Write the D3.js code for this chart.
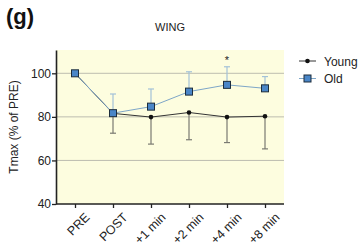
<!DOCTYPE html>
<html lang="en">
<head>
  <meta charset="UTF-8">
  <title>WING</title>
  <script src="https://d3js.org/d3.v7.min.js"></script>
  <style>
    body { margin: 0; background: #fff; }
    text { font-family: "Liberation Sans", Arial, sans-serif; }
  </style>
</head>
<body>
<div id="chart"></div>
<script>
  // data
  const times = ["PRE", "POST", "+1 min", "+2 min", "+4 min", "+8 min"]
  const youngMean = [100, 81.6, 79.9, 82.0, 79.9, 80.3]
  const youngLow = [100, 72.5, 67.5, 69.5, 68.2, 65.3]
  const oldMean = [100, 81.7, 84.7, 91.6, 94.7, 93.1]
  const oldHigh = [100, 90.5, 92.8, 100.7, 103, 98.5]
  const yTicks = [40, 60, 80, 100]
  const gridLines = [60, 80, 100]
  const sigMarks = ["+4 min"]

  const width = 362, height = 242
  const margin = {top: 50, right: 78, bottom: 38, left: 56}

  const svg = d3.select("#chart").append("svg")
    .attr("width", width)
    .attr("height", height)

  const x = d3.scalePoint()
    .domain(times)
    .range([margin.left, width - margin.right])
    .padding(0.5)

  const y = d3.scaleLinear()
    .domain([40, 110.7])
    .range([height - margin.bottom, margin.top])

  // plot background
  svg.append("rect")
    .attr("x", margin.left)
    .attr("y", margin.top)
    .attr("width", width - margin.right - margin.left)
    .attr("height", height - margin.bottom - margin.top)
    .attr("fill", "#fdfddf")

  svg.selectAll(".grid")
    .data(gridLines)
    .join("line")
    .attr("class", "grid")
    .attr("x1", margin.left)
    .attr("x2", width - margin.right)
    .attr("y1", d => y(d))
    .attr("y2", d => y(d))
    .attr("stroke", "#bdbdb0")
    .attr("stroke-width", 1)

  // axes
  const yAxis = svg.append("g")
    .attr("transform", `translate(${margin.left},0)`)
    .call(d3.axisLeft(y).tickValues(yTicks).tickSize(4).tickSizeOuter(0))
  yAxis.select(".domain").attr("stroke", "#222").attr("stroke-width", 1.6)
  yAxis.selectAll(".tick line").attr("stroke", "#222").attr("stroke-width", 1.3)
  yAxis.selectAll(".tick text").attr("font-size", 12).attr("fill", "#222").attr("x", -5)

  const xAxis = svg.append("g")
    .attr("transform", `translate(0,${height - margin.bottom})`)
    .call(d3.axisBottom(x).tickSize(4).tickSizeOuter(0))
  xAxis.select(".domain").attr("stroke", "#222").attr("stroke-width", 1.6)
    .attr("d", `M${margin.left},0H${width - margin.right}`)
  xAxis.selectAll(".tick line").attr("stroke", "#222").attr("stroke-width", 1.3)
  xAxis.selectAll(".tick text")
    .attr("font-size", 12.5)
    .attr("fill", "#222")
    .attr("text-anchor", "end")
    .attr("transform", "translate(6,5) rotate(-45)")
    .attr("dy", "0.7em")
    .attr("y", 4)

  // error bars: young down, old up
  const yg = svg.append("g")
  yg.selectAll("line.ev")
    .data(times.filter((t, i) => youngLow[i] < youngMean[i]))
    .join("line")
    .attr("x1", d => x(d)).attr("x2", d => x(d))
    .attr("y1", d => y(youngMean[times.indexOf(d)]))
    .attr("y2", d => y(youngLow[times.indexOf(d)]))
    .attr("stroke", "#7a7a72").attr("stroke-width", 1.2)
  yg.selectAll("line.ec")
    .data(times.filter((t, i) => youngLow[i] < youngMean[i]))
    .join("line")
    .attr("class", "ec")
    .attr("x1", d => x(d) - 3).attr("x2", d => x(d) + 3)
    .attr("y1", d => y(youngLow[times.indexOf(d)]))
    .attr("y2", d => y(youngLow[times.indexOf(d)]))
    .attr("stroke", "#7a7a72").attr("stroke-width", 1.2)

  const og = svg.append("g")
  og.selectAll("line.ev")
    .data(times.filter((t, i) => oldHigh[i] > oldMean[i]))
    .join("line")
    .attr("x1", d => x(d)).attr("x2", d => x(d))
    .attr("y1", d => y(oldMean[times.indexOf(d)]))
    .attr("y2", d => y(oldHigh[times.indexOf(d)]))
    .attr("stroke", "#a3c2d8").attr("stroke-width", 1.2)
  og.selectAll("line.ec")
    .data(times.filter((t, i) => oldHigh[i] > oldMean[i]))
    .join("line")
    .attr("class", "ec")
    .attr("x1", d => x(d) - 3).attr("x2", d => x(d) + 3)
    .attr("y1", d => y(oldHigh[times.indexOf(d)]))
    .attr("y2", d => y(oldHigh[times.indexOf(d)]))
    .attr("stroke", "#a3c2d8").attr("stroke-width", 1.2)

  // lines
  const line = d3.line().x((d, i) => x(times[i])).y(d => y(d))
  svg.append("path")
    .datum(youngMean)
    .attr("d", line)
    .attr("fill", "none")
    .attr("stroke", "#333")
    .attr("stroke-width", 1)
  svg.append("path")
    .datum(oldMean)
    .attr("d", line)
    .attr("fill", "none")
    .attr("stroke", "#7ea6c8")
    .attr("stroke-width", 1)

  // markers
  svg.selectAll("circle.young")
    .data(youngMean)
    .join("circle")
    .attr("class", "young")
    .attr("cx", (d, i) => x(times[i]))
    .attr("cy", d => y(d))
    .attr("r", 2.3)
    .attr("fill", "#111")
  svg.selectAll("rect.old")
    .data(oldMean)
    .join("rect")
    .attr("class", "old")
    .attr("x", (d, i) => x(times[i]) - 3.5)
    .attr("y", d => y(d) - 3.5)
    .attr("width", 7)
    .attr("height", 7)
    .attr("fill", "#4a86c8")
    .attr("stroke", "#1d2d3d")
    .attr("stroke-width", 1)

  // significance
  svg.selectAll("text.sig")
    .data(sigMarks)
    .join("text")
    .attr("class", "sig")
    .attr("x", d => x(d))
    .attr("y", d => y(oldHigh[times.indexOf(d)]) - 3)
    .attr("text-anchor", "middle")
    .attr("font-size", 11)
    .attr("fill", "#222")
    .text("*")

  // titles
  svg.append("text")
    .attr("x", 170).attr("y", 31)
    .attr("text-anchor", "middle")
    .attr("font-size", 11)
    .attr("fill", "#222")
    .text("WING")
  svg.append("text")
    .attr("x", 6).attr("y", 24)
    .attr("font-size", 22)
    .attr("font-weight", "bold")
    .attr("fill", "#111")
    .text("(g)")
  svg.append("text")
    .attr("transform", `translate(18,${(margin.top + height - margin.bottom) / 2}) rotate(-90)`)
    .attr("text-anchor", "middle")
    .attr("font-size", 12)
    .attr("fill", "#222")
    .text("Tmax (% of PRE)")

  // legend
  const leg = svg.append("g").attr("transform", "translate(299,61)")
  leg.append("line").attr("x1", 0).attr("x2", 17).attr("y1", 0).attr("y2", 0)
    .attr("stroke", "#333").attr("stroke-width", 1)
  leg.append("circle").attr("cx", 8.5).attr("cy", 0).attr("r", 2.3).attr("fill", "#111")
  leg.append("text").attr("x", 25).attr("y", 4.5).attr("font-size", 12).attr("fill", "#222").text("Young")
  leg.append("line").attr("x1", 0).attr("x2", 17).attr("y1", 17.5).attr("y2", 17.5)
    .attr("stroke", "#7ea6c8").attr("stroke-width", 1)
  leg.append("rect").attr("x", 5).attr("y", 14).attr("width", 7).attr("height", 7)
    .attr("fill", "#4a86c8").attr("stroke", "#1d2d3d").attr("stroke-width", 1)
  leg.append("text").attr("x", 25).attr("y", 22).attr("font-size", 12).attr("fill", "#222").text("Old")
</script>
</body>
</html>
